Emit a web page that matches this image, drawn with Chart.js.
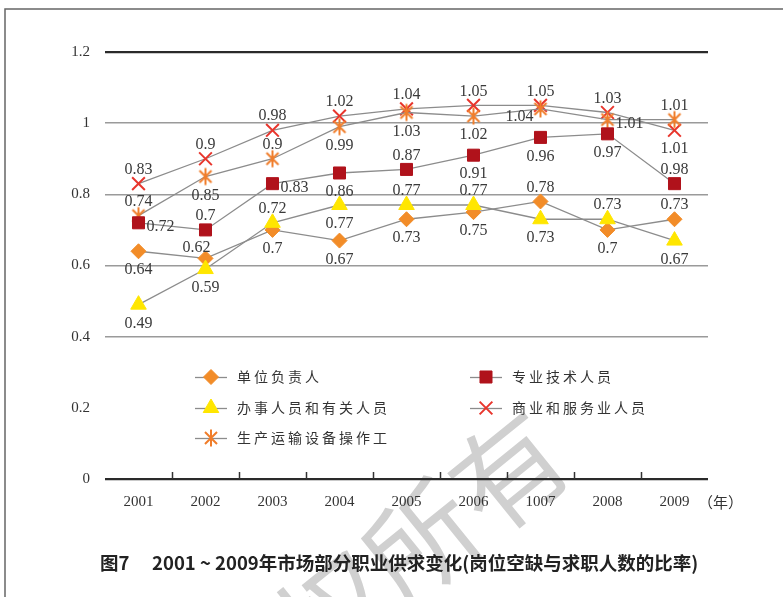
<!DOCTYPE html>
<html><head><meta charset="utf-8">
<script src="https://cdn.jsdelivr.net/npm/chart.js@4.4.1/dist/chart.umd.min.js"></script>
<style>html,body{margin:0;padding:0;background:#fff}canvas{display:block}</style>
</head><body>
<canvas id="c" width="783" height="597"></canvas>
<script>
// ---- data ----
const years = ['2001','2002','2003','2004','2005','2006','1007','2008','2009'];
const yTickLabels = ['0','0.2','0.4','0.6','0.8','1','1.2'];
const seriesNames = ['单位负责人','专业技术人员','办事人员和有关人员','商业和服务业人员','生产运输设备操作工'];
const leaders = [0.64,0.62,0.70,0.67,0.73,0.75,0.78,0.70,0.73];
const leadersLabels = ['0.64','0.62','0.7','0.67','0.73','0.75','0.78','0.7','0.73'];
const professionals = [0.72,0.70,0.83,0.86,0.87,0.91,0.96,0.97,0.83];
const professionalsLabels = ['0.72','0.7','0.83','0.86','0.87','0.91','0.96','0.97','0.98'];
const clerks = [0.49,0.59,0.72,0.77,0.77,0.77,0.73,0.73,0.67];
const clerksLabels = ['0.49','0.59','0.72','0.77','0.77','0.77','0.73','0.73','0.67'];
const commerce = [0.83,0.90,0.98,1.02,1.04,1.05,1.05,1.03,0.98];
const commerceLabels = ['0.83','0.9','0.98','1.02','1.04','1.05','1.05','1.03','1.01'];
const production = [0.74,0.85,0.90,0.99,1.03,1.02,1.04,1.01,1.01];
const productionLabels = ['0.74','0.85','0.9','0.99','1.03','1.02','1.04','1.01','1.01'];
const titleText = '图7\u3000 2001 ~ 2009年市场部分职业供求变化(岗位空缺与求职人数的比率)';

// ---- styles ----
const labelPlacement = {
  leaders:      ['b','tl','b','b','b','b','t','b','t'],
  professionals:['r','t','r','b','t','b','b','b','t'],
  clerks:       ['b','b','t','b','t','t','b','t','b'],
  commerce:     ['t','t','t','t','t','t','t','t','b'],
  production:   ['t','b','t','b','b','b','l','r','t']
};
function makeAsterisk(color){
  const c=document.createElement('canvas'); c.width=20; c.height=20;
  const g=c.getContext('2d'); g.strokeStyle=color; g.lineWidth=2; g.lineCap='butt';
  const cx=10, cy=10, r=8.5;
  g.beginPath();
  g.moveTo(cx,cy-r); g.lineTo(cx,cy+r);
  const a=Math.PI/4, dx=Math.sin(a)*r, dy=Math.cos(a)*r;
  g.moveTo(cx-dx,cy-dy); g.lineTo(cx+dx,cy+dy);
  g.moveTo(cx+dx,cy-dy); g.lineTo(cx-dx,cy+dy);
  g.stroke();
  return c;
}
const asterisk = makeAsterisk('#F07D2A');
const LINE = '#8c8c8c';

const ds = [
  {key:'professionals', name:seriesNames[1], data:professionals, labels:professionalsLabels, color:'#B0121B', style:'rect', r:8.5, bw:1},
  {key:'clerks', name:seriesNames[2], data:clerks, labels:clerksLabels, color:'#FFE600', style:'triangle', r:9, bw:1},
  {key:'production', name:seriesNames[4], data:production, labels:productionLabels, color:'#F07D2A', style:asterisk, r:9, bw:1},
  {key:'commerce', name:seriesNames[3], data:commerce, labels:commerceLabels, color:'#E8352C', style:'crossRot', r:9, bw:2},
  {key:'leaders', name:seriesNames[0], data:leaders, labels:leadersLabels, color:'#F28C28', style:'rectRot', r:7.5, bw:1}
];
const legendOrder = ['leaders','professionals','clerks','commerce','production'];
const legendPos = [[195,377],[470,377],[195,408],[470,408],[195,438]];

const datasets = ds.map(d=>({
  label:d.name, data:d.data, borderColor:LINE, borderWidth:1.3, backgroundColor:d.color,
  pointStyle:d.style, pointRadius:d.r, pointHoverRadius:d.r,
  pointBackgroundColor:d.color, pointBorderColor:d.color, pointBorderWidth:d.bw,
  tension:0, fill:false, clip:false
}));

const serif = '"Liberation Serif", "DejaVu Serif", serif';
const cjk = '"Noto Sans CJK SC", sans-serif';

const decor = {
  id:'decor',
  beforeDraw(chart){
    const ctx=chart.ctx;
    ctx.save();
    ctx.fillStyle='#fff'; ctx.fillRect(0,0,chart.width,chart.height);
    ctx.strokeStyle='#666'; ctx.lineWidth=1.5;
    ctx.beginPath(); ctx.moveTo(5,597); ctx.lineTo(5,9); ctx.lineTo(783,9); ctx.stroke();
    ctx.translate(552,436); ctx.rotate(-0.68);
    ctx.fillStyle='#d0d0d0'; ctx.font='112px '+cjk; ctx.textAlign='right'; ctx.textBaseline='middle';
    ctx.fillText('版权所有',0,0);
    ctx.restore();
  },
  beforeDatasetsDraw(chart){
    const ctx=chart.ctx, xs=chart.scales.x, a=chart.chartArea;
    ctx.save(); ctx.strokeStyle='#333'; ctx.lineWidth=1.5;
    for(let i=1;i<years.length;i++){
      const x=Math.round((xs.getPixelForValue(i-1)+xs.getPixelForValue(i))/2)+0.5;
      ctx.beginPath(); ctx.moveTo(x,a.bottom); ctx.lineTo(x,a.bottom-7); ctx.stroke();
    }
    ctx.restore();
  },
  afterDatasetsDraw(chart){
    const ctx=chart.ctx;
    ctx.save();
    ctx.font='16px '+serif; ctx.fillStyle='#3a3a3a'; ctx.textBaseline='middle';
    ds.forEach((d,di)=>{
      const meta=chart.getDatasetMeta(di);
      meta.data.forEach((pt,i)=>{
        const p=labelPlacement[d.key][i]; let x=pt.x, y=pt.y, al='center';
        if(p==='t'){y-=14;} else if(p==='b'){y+=19;}
        else if(p==='r'){x+=8;y+=4;al='left';}
        else if(p==='l'){x-=7;y+=8;al='right';}
        else if(p==='tl'){x-=9;y-=11;}
        ctx.textAlign=al; ctx.fillText(d.labels[i],x,y);
      });
    });
    legendOrder.forEach((k,li)=>{
      const d=ds.find(e=>e.key===k); const [lx,ly]=legendPos[li];
      ctx.strokeStyle=LINE; ctx.lineWidth=1.3;
      ctx.beginPath(); ctx.moveTo(lx,ly+0.5); ctx.lineTo(lx+32,ly+0.5); ctx.stroke();
      ctx.fillStyle=d.color; ctx.strokeStyle=d.color; ctx.lineWidth=d.bw;
      Chart.helpers.drawPoint(ctx,{pointStyle:d.style,radius:d.r,borderWidth:d.bw,rotation:0},lx+16,ly);
      ctx.fillStyle='#333'; ctx.font='14px '+cjk; ctx.textAlign='left'; ctx.textBaseline='middle';
      ctx.letterSpacing='3px';
      ctx.fillText(d.name,lx+42,ly);
      ctx.letterSpacing='0px';
    });
    ctx.fillStyle='#333'; ctx.font='15px '+cjk; ctx.textAlign='left'; ctx.textBaseline='middle';
    ctx.fillText('（年）',698,502);
    ctx.fillStyle='#222'; ctx.font='bold 18.5px '+cjk; ctx.textAlign='left';
    ctx.fillText(titleText,100,563);
    ctx.restore();
  }
};

new Chart(document.getElementById('c'),{
  type:'line',
  data:{labels:years, datasets},
  options:{
    responsive:false, devicePixelRatio:1, animation:false,
    layout:{padding:{top:52,right:75,left:0,bottom:0}},
    plugins:{legend:{display:false},tooltip:{enabled:false},title:{display:false}},
    scales:{
      x:{type:'category', offset:true,
         grid:{display:false, drawTicks:false}, border:{display:false},
         ticks:{font:{family:serif,size:15}, color:'#333', padding:14, maxRotation:0, autoSkip:false},
         afterFit:s=>{s.height=118;}},
      y:{min:0,max:1.2,
         grid:{drawTicks:false,
           color:c=>{const v=c.tick.value; if(Math.abs(v-0.2)<1e-6) return 'rgba(0,0,0,0)'; if(Math.abs(v)<1e-6||Math.abs(v-1.2)<1e-6) return '#2a2a2a'; return '#9a9a9a';},
           lineWidth:c=>{const v=c.tick.value; if(Math.abs(v)<1e-6||Math.abs(v-1.2)<1e-6) return 2.2; return 1.5;}},
         border:{display:false},
         ticks:{stepSize:0.2, padding:15, font:{family:serif,size:15}, color:'#333',
           callback:(v,i)=>yTickLabels[i]},
         afterFit:s=>{s.width=105;}}
    }
  },
  plugins:[decor]
});
</script>
</body></html>
